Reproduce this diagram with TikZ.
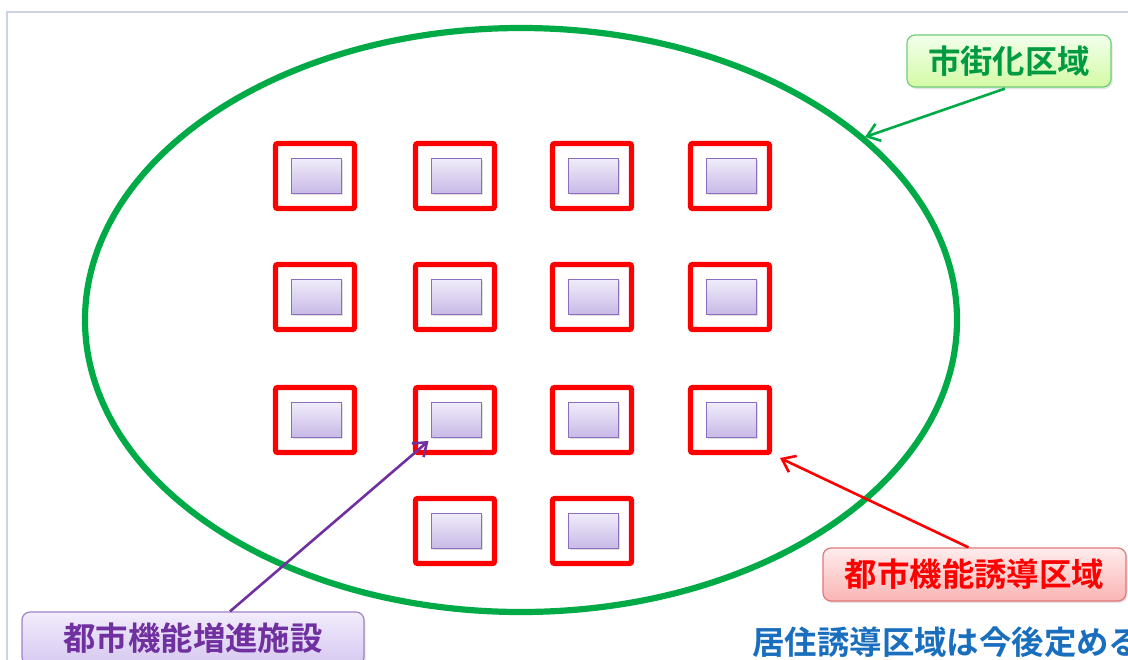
\documentclass[tikz,border=0pt]{standalone}
\usepackage{fontspec}
\newfontfamily\cjk{Noto Sans CJK JP}[BoldFont={Noto Sans CJK JP Bold}]
\usetikzlibrary{arrows.meta,shadows,calc}
\definecolor{frameGray}{RGB}{205,212,225}
\definecolor{ellGreen}{RGB}{0,170,70}
\definecolor{txtGreen}{RGB}{0,155,65}
\definecolor{txtPurple}{RGB}{112,48,160}
\definecolor{txtBlue}{RGB}{25,110,190}
\definecolor{innerTop}{RGB}{240,236,250}
\definecolor{innerBot}{RGB}{200,185,230}
\definecolor{innerLine}{RGB}{140,110,190}
\definecolor{gTop}{RGB}{242,255,236}
\definecolor{gBot}{RGB}{212,250,165}
\definecolor{gLine}{RGB}{110,205,120}
\definecolor{rTop}{RGB}{255,236,236}
\definecolor{rBot}{RGB}{250,180,180}
\definecolor{rLine}{RGB}{225,120,120}
\definecolor{pTop}{RGB}{242,236,252}
\definecolor{pBot}{RGB}{214,200,240}
\definecolor{pLine}{RGB}{160,130,200}
\tikzset{
  redbox/.style={draw=red, line width=2.6pt, rounded corners=1pt, minimum width=39.5pt, minimum height=32.5pt, inner sep=0pt},
  innerbox/.style={draw=innerLine, line width=0.5pt, top color=innerTop, bottom color=innerBot, minimum width=25pt, minimum height=17.5pt, inner sep=0pt,
    drop shadow={shadow xshift=0.8pt, shadow yshift=-0.8pt, opacity=0.25}},
  labelbox/.style={rounded corners=4pt, line width=0.6pt, inner sep=0pt, font=\cjk\bfseries\fontsize{16.2pt}{19pt}\selectfont,
    drop shadow={shadow xshift=0.8pt, shadow yshift=-1pt, opacity=0.2}},
  barb/.style={-{Straight Barb[length=6pt,width=9pt,line width=1.3pt]}, line width=1.3pt}
}
\begin{document}
\begin{tikzpicture}[x=0.5pt,y=-0.5pt]
\useasboundingbox (0,0) rectangle (1128,659);
\fill[white] (0,0) rectangle (1128,659);
\draw[frameGray, line width=0.8pt] (7,660) -- (7,12) -- (1129,12);
% ellipse
\draw[ellGreen, line width=3.1pt] (521,320) ellipse [x radius=436, y radius=292];
% grid of boxes
\foreach \r/\y in {1/176,2/297,3/420}{
  \foreach \c/\x in {1/315,2/455,3/592,4/730}{
    \node[redbox] (r\r\c) at (\x,\y) {};
    \node[innerbox] (i\r\c) at (\x+1,\y) {};
  }
}
\foreach \c/\x in {2/455,3/592}{
  \node[redbox] (r4\c) at (\x,531) {};
  \node[innerbox] (i4\c) at (\x+1,531) {};
}
% labels
\node[labelbox, draw=gLine, top color=gTop, bottom color=gBot, text=txtGreen, minimum width=102pt, minimum height=26pt] (gb) at (1009,61) {市街化区域};
\node[labelbox, draw=rLine, top color=rTop, bottom color=rBot, text=red, minimum width=151.5pt, minimum height=26.5pt] (rb) at (974.5,574.5) {都市機能誘導区域};
\node[labelbox, draw=pLine, top color=pTop, bottom color=pBot, text=txtPurple, minimum width=171pt, minimum height=26.5pt] (pb) at (193,638.5) {都市機能増進施設};
\node[anchor=west, inner sep=0pt, text=txtBlue, font=\cjk\bfseries\fontsize{16.2pt}{19pt}\selectfont] (bt) at (752,642) {居住誘導区域は今後定める};
% arrows
\coordinate (gtip) at (865,137);
\coordinate (rtip) at (780,458);
\draw[barb, ellGreen] ($(gb.south)+(-4,1)$) -- (gtip);
\draw[barb, red] ($(rb.north)+(-6,0)$) -- (rtip);
\draw[barb, txtPurple] ($(pb.north)+(37,0)$) -- ($(i32.south west)+(-2,3)$);
\end{tikzpicture}
\end{document}
